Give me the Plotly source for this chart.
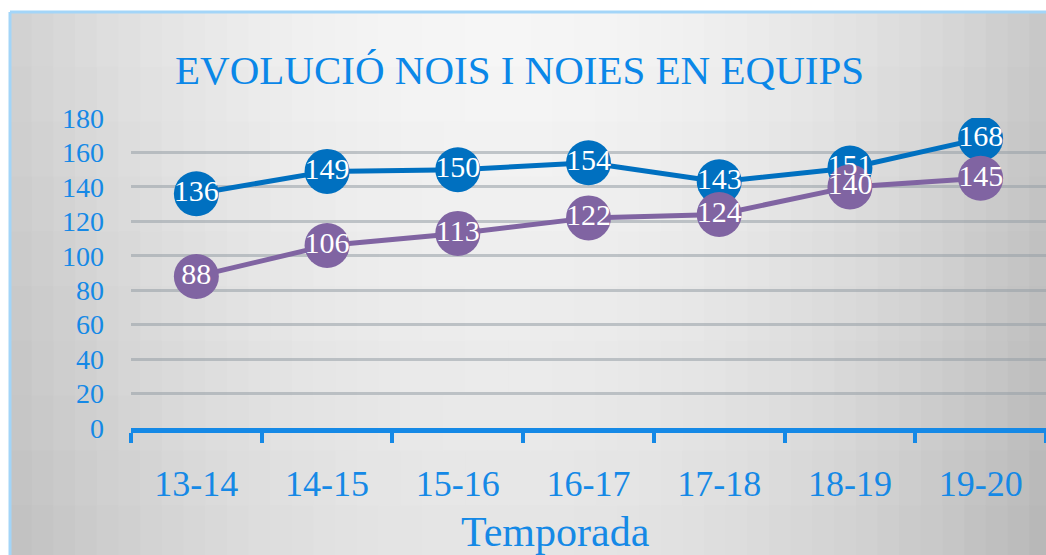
import plotly.graph_objects as go

# ---- data ----
temporades = ["13-14", "14-15", "15-16", "16-17", "17-18", "18-19", "19-20"]
nois = [136, 149, 150, 154, 143, 151, 168]
noies = [88, 106, 113, 122, 124, 140, 145]
y_ticks = [0, 20, 40, 60, 80, 100, 120, 140, 160, 180]
titol = "EVOLUCIÓ NOIS I NOIES EN EQUIPS"
titol_x = "Temporada"

W, H = 1046, 555
ML, MR, MT, MB = 131, 0, 118, 127
PW, PH = W - ML - MR, H - MT - MB

def px_x(px):
    return (px - ML) / PW

def px_y(py):
    return (H - MB - py) / PH

FONT = "Liberation Serif"
BLUE_TXT = "#1589E6"
C_NOIS = "#0070C0"
C_NOIES = "#8064A2"

fig = go.Figure()

# lines + markers
fig.add_trace(go.Scatter(x=temporades, y=nois, mode="lines+markers",
                         line=dict(color=C_NOIS, width=5),
                         marker=dict(size=45, color=C_NOIS, line=dict(width=0)),
                         showlegend=False, hoverinfo="skip"))
fig.add_trace(go.Scatter(x=temporades, y=noies, mode="lines+markers",
                         line=dict(color=C_NOIES, width=5),
                         marker=dict(size=45, color=C_NOIES, line=dict(width=0)),
                         showlegend=False, hoverinfo="skip"))
# data labels on top of all markers
for vals in (nois, noies):
    fig.add_trace(go.Scatter(x=temporades, y=vals, mode="text",
                             text=[str(v) for v in vals],
                             textposition="middle center",
                             textfont=dict(family=FONT, size=30, color="white"),
                             showlegend=False, hoverinfo="skip"))

# ---- background gradient (grid of rects) ----
shapes = []
x0px, y0px = 10, 12
ncol, nrow = 48, 10
for i in range(ncol):
    for j in range(nrow):
        fx = (i + 0.5) / ncol
        fy = (j + 0.5) / nrow
        b = 200 + 47 * (1 - ((fx - 0.47) / 0.53) ** 2) - 18 * fy
        b = int(max(0, min(255, b)))
        xa = x0px + (W + 5 - x0px) * i / ncol
        xb = x0px + (W + 5 - x0px) * (i + 1) / ncol + 1
        ya = y0px + (H + 5 - y0px) * j / nrow
        yb = y0px + (H + 5 - y0px) * (j + 1) / nrow + 1
        shapes.append(dict(type="rect", xref="paper", yref="paper",
                           x0=px_x(xa), x1=px_x(xb), y0=px_y(yb), y1=px_y(ya),
                           fillcolor=f"rgb({b},{b},{b})", line=dict(width=0),
                           layer="below"))
# frame border (top + left, light blue)
shapes.append(dict(type="line", xref="paper", yref="paper",
                   x0=px_x(10), x1=px_x(W + 5), y0=px_y(12), y1=px_y(12),
                   line=dict(color="#A3D5F8", width=3), layer="below"))
shapes.append(dict(type="line", xref="paper", yref="paper",
                   x0=px_x(10), x1=px_x(10), y0=px_y(12), y1=px_y(H + 5),
                   line=dict(color="#A3D5F8", width=3), layer="below"))

annotations = [
    dict(text=titol, xref="paper", yref="paper", x=px_x(519), y=px_y(70),
         xanchor="center", yanchor="middle", showarrow=False,
         font=dict(family=FONT, size=41, color="#0A87E8")),
    dict(text=titol_x, xref="paper", yref="paper", x=px_x(555), y=px_y(532),
         xanchor="center", yanchor="middle", showarrow=False,
         font=dict(family=FONT, size=42, color=BLUE_TXT)),
]

fig.update_layout(
    width=W, height=H,
    margin=dict(l=ML, r=MR, t=MT, b=MB, pad=0),
    paper_bgcolor="white",
    plot_bgcolor="rgba(0,0,0,0)",
    shapes=shapes,
    annotations=annotations,
    showlegend=False,
    xaxis=dict(type="category", categoryorder="array", categoryarray=temporades,
               range=[-0.5, 6.5], tickson="boundaries",
               ticks="outside", ticklen=10, tickwidth=4, tickcolor=BLUE_TXT,
               showline=True, linewidth=5, linecolor=BLUE_TXT,
               showgrid=False, zeroline=False,
               tickfont=dict(family=FONT, size=36, color=BLUE_TXT),
               ticklabelstandoff=20),
    yaxis=dict(range=[0, 180], tickvals=y_ticks,
               showgrid=True, gridcolor="rgba(150,158,166,0.55)", gridwidth=3,
               zeroline=False, showline=False, ticks="",
               tickfont=dict(family=FONT, size=28, color=BLUE_TXT),
               ticklabelstandoff=26),
)

fig.write_html("out.html", config={"displayModeBar": False},
               post_script="document.body.style.margin='0px';document.body.style.overflow='hidden';")
